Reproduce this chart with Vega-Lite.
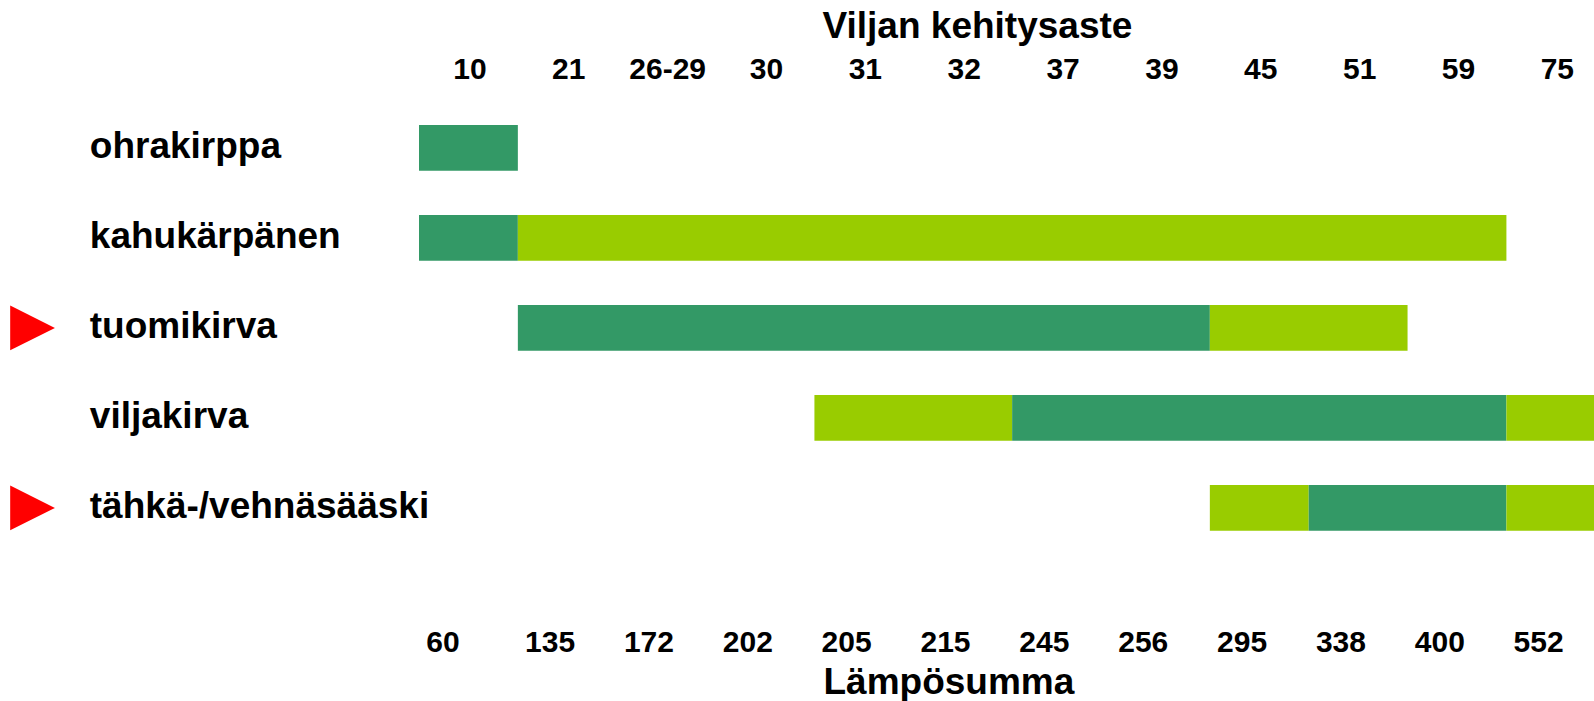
{
  "$schema": "https://vega.github.io/schema/vega-lite/v6.json",
  "autosize": {"type": "none"},
  "width": 1175,
  "height": 450,
  "padding": {"left": 419, "top": 102.9, "right": 0, "bottom": 148.1},
  "background": "white",
  "config": {"view": {"stroke": null}, "font": "Liberation Sans"},
  "encoding": {
    "y": {
      "field": "pest",
      "type": "nominal",
      "scale": {
        "domain": ["ohrakirppa", "kahukärpänen", "tuomikirva", "viljakirva", "tähkä-/vehnäsääski"],
        "paddingInner": 0.492,
        "paddingOuter": 0.246
      },
      "axis": {
        "orient": "left",
        "title": null,
        "domain": false,
        "ticks": false,
        "tickSize": 0,
        "grid": false,
        "labelAlign": "left",
        "labelBaseline": "alphabetic",
        "labelPadding": 329.7,
        "labelOffset": 10,
        "labelFont": "Liberation Sans",
        "labelFontSize": 37,
        "labelFontWeight": "bold",
        "labelColor": "black",
        "labelLimit": 0,
        "labelOverlap": false,
        "labelBound": false
      }
    }
  },
  "layer": [
    {
      "data": {
        "values": [
          {"pest": "ohrakirppa", "start": 0, "end": 1, "phase": "dark"},
          {"pest": "kahukärpänen", "start": 0, "end": 1, "phase": "dark"},
          {"pest": "kahukärpänen", "start": 1, "end": 11, "phase": "light"},
          {"pest": "tuomikirva", "start": 1, "end": 8, "phase": "dark"},
          {"pest": "tuomikirva", "start": 8, "end": 10, "phase": "light"},
          {"pest": "viljakirva", "start": 4, "end": 6, "phase": "light"},
          {"pest": "viljakirva", "start": 6, "end": 11, "phase": "dark"},
          {"pest": "viljakirva", "start": 11, "end": 12, "phase": "light"},
          {"pest": "tähkä-/vehnäsääski", "start": 8, "end": 9, "phase": "light"},
          {"pest": "tähkä-/vehnäsääski", "start": 9, "end": 11, "phase": "dark"},
          {"pest": "tähkä-/vehnäsääski", "start": 11, "end": 12, "phase": "light"}
        ]
      },
      "mark": {"type": "bar", "clip": true, "opacity": 1},
      "encoding": {
        "x": {
          "field": "start",
          "type": "quantitative",
          "scale": {"domain": [0, 11.886], "nice": false, "zero": false},
          "axis": {
            "orient": "top",
            "values": [0.5, 1.5, 2.5, 3.5, 4.5, 5.5, 6.5, 7.5, 8.5, 9.5, 10.5, 11.5],
            "labelExpr": "['10','21','26-29','30','31','32','37','39','45','51','59','75'][floor(datum.value)]",
            "domain": false,
            "ticks": false,
            "tickSize": 0,
            "grid": false,
            "labelAlign": "center",
            "labelBaseline": "alphabetic",
            "labelPadding": 24.6,
            "labelOffset": 1,
            "labelFont": "Liberation Sans",
            "labelFontSize": 30,
            "labelFontWeight": "bold",
            "labelColor": "black",
            "labelFlush": false,
            "labelOverlap": false,
            "labelBound": false,
            "title": "Viljan kehitysaste",
            "titleFont": "Liberation Sans",
            "titleFontSize": 37,
            "titleFontWeight": "bold",
            "titleColor": "black",
            "titleX": 403,
            "titleY": -65.6,
            "titleAlign": "left",
            "titleBaseline": "alphabetic",
            "titleAngle": 0
          }
        },
        "x2": {"field": "end"},
        "color": {
          "field": "phase",
          "type": "nominal",
          "scale": {"domain": ["dark", "light"], "range": ["#339966", "#99CC00"]},
          "legend": null
        }
      }
    },
    {
      "data": {
        "values": [
          {"pest": "tuomikirva"},
          {"pest": "tähkä-/vehnäsääski"}
        ]
      },
      "mark": {
        "type": "point",
        "shape": "M-1,-1L1,0L-1,1Z",
        "size": 2000,
        "filled": true,
        "color": "#FF0000",
        "opacity": 1,
        "strokeWidth": 0
      },
      "encoding": {
        "x": {
          "datum": -3.909,
          "type": "quantitative",
          "axis": {
            "orient": "bottom",
            "values": [0, 1, 2, 3, 4, 5, 6, 7, 8, 9, 10, 11],
            "labelExpr": "['60','135','172','202','205','215','245','256','295','338','400','552'][round(datum.value)]",
            "domain": false,
            "ticks": false,
            "tickSize": 0,
            "grid": false,
            "labelAlign": "left",
            "labelBaseline": "alphabetic",
            "labelPadding": 98.8,
            "labelOffset": 6.7,
            "labelFont": "Liberation Sans",
            "labelFontSize": 30,
            "labelFontWeight": "bold",
            "labelColor": "black",
            "labelFlush": false,
            "labelOverlap": false,
            "labelBound": false,
            "title": "Lämpösumma",
            "titleFont": "Liberation Sans",
            "titleFontSize": 37,
            "titleFontWeight": "bold",
            "titleColor": "black",
            "titleX": 404,
            "titleY": 140.4,
            "titleAlign": "left",
            "titleBaseline": "alphabetic",
            "titleAngle": 0
          }
        }
      }
    }
  ],
  "resolve": {"axis": {"x": "independent"}}
}
